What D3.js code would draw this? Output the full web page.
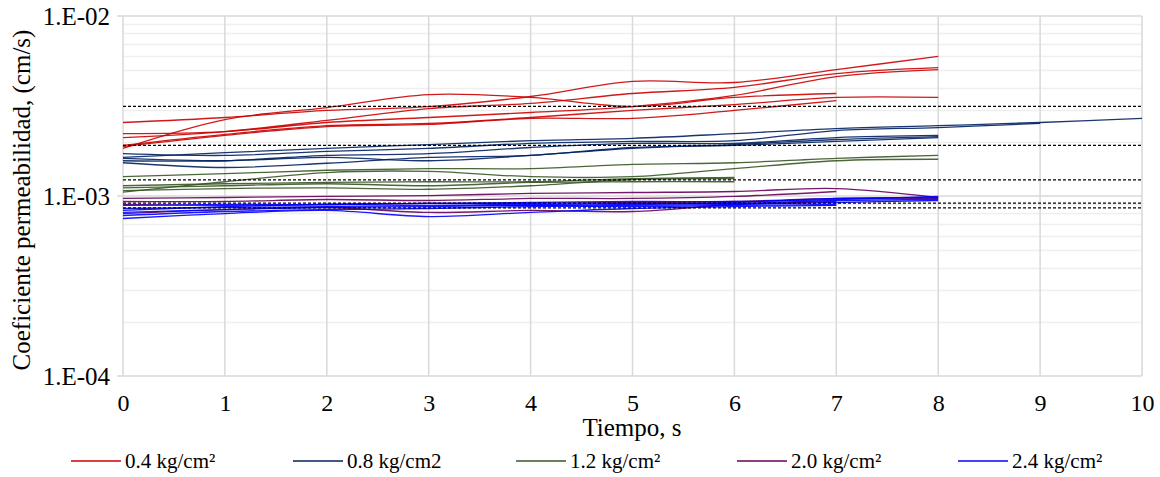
<!DOCTYPE html>
<html><head><meta charset="utf-8">
<script src="https://cdn.jsdelivr.net/npm/d3@7/dist/d3.min.js"></script>
<style>body{margin:0;background:#fff}svg{display:block}svg text{font-family:"Times New Roman","Liberation Serif","DejaVu Serif",serif !important;fill:#000}</style>
</head><body><svg id="c" width="1160" height="477"></svg>
<script>
// Time (s) values for each test run are 0,1,2,... (index)
const seriesNames = ["0.4 kg/cm²", "0.8 kg/cm2", "1.2 kg/cm²", "2.0 kg/cm²", "2.4 kg/cm²"];
const seriesColors = ["#cc0000", "#002060", "#375623", "#66005a", "#0000ff"];

const runs04 = [
  [2.56e-3, 2.73e-3, 2.99e-3, 3.14e-3, 3.57e-3, 4.33e-3, 4.27e-3, 5.04e-3, 5.96e-3],
  [1.84e-3, 2.66e-3, 3.10e-3, 3.66e-3, 3.53e-3, 3.14e-3, 3.53e-3, 3.71e-3],
  [2.11e-3, 2.28e-3, 2.63e-3, 3.06e-3, 3.27e-3, 3.71e-3, 4.01e-3, 4.79e-3, 5.17e-3],
  [2.22e-3, 2.28e-3, 2.56e-3, 2.73e-3, 2.91e-3, 3.14e-3, 3.62e-3, 4.61e-3, 5.04e-3],
  [1.91e-3, 2.20e-3, 2.46e-3, 2.53e-3, 2.73e-3, 2.99e-3, 3.22e-3, 3.53e-3, 3.53e-3],
  [1.88e-3, 2.17e-3, 2.43e-3, 2.50e-3, 2.70e-3, 2.70e-3, 2.99e-3, 3.39e-3]
];
const runs08 = [
  [1.64e-3, 1.74e-3, 1.84e-3, 1.93e-3, 2.03e-3, 2.09e-3, 2.22e-3, 2.37e-3, 2.46e-3, 2.56e-3, 2.70e-3],
  [1.72e-3, 1.68e-3, 1.77e-3, 1.84e-3, 1.96e-3, 2.01e-3, 2.03e-3, 2.31e-3, 2.40e-3, 2.53e-3],
  [1.57e-3, 1.57e-3, 1.68e-3, 1.72e-3, 1.86e-3, 1.96e-3, 1.96e-3, 2.11e-3, 2.17e-3],
  [1.53e-3, 1.44e-3, 1.52e-3, 1.64e-3, 1.68e-3, 1.86e-3, 1.91e-3, 2.01e-3, 2.11e-3],
  [1.62e-3, 1.57e-3, 1.64e-3, 1.57e-3, 1.68e-3, 1.84e-3, 1.93e-3, 2.06e-3, 2.14e-3]
];
const runs12 = [
  [1.28e-3, 1.33e-3, 1.39e-3, 1.42e-3, 1.42e-3, 1.50e-3, 1.53e-3, 1.62e-3, 1.68e-3],
  [1.05e-3, 1.20e-3, 1.35e-3, 1.37e-3, 1.28e-3, 1.28e-3, 1.42e-3, 1.57e-3, 1.60e-3],
  [1.14e-3, 1.17e-3, 1.19e-3, 1.20e-3, 1.20e-3, 1.25e-3, 1.27e-3],
  [1.11e-3, 1.14e-3, 1.17e-3, 1.14e-3, 1.19e-3, 1.20e-3, 1.20e-3],
  [1.07e-3, 1.10e-3, 1.11e-3, 1.09e-3, 1.14e-3, 1.235e-3, 1.25e-3]
];
const runs20 = [
  [0.969e-3, 0.981e-3, 0.994e-3, 1.006e-3, 1.033e-3, 1.046e-3, 1.059e-3, 1.10e-3, 0.981e-3],
  [0.932e-3, 0.932e-3, 0.956e-3, 0.944e-3, 0.969e-3, 0.969e-3, 0.994e-3, 1.059e-3],
  [0.799e-3, 0.841e-3, 0.863e-3, 0.810e-3, 0.831e-3, 0.820e-3, 0.897e-3, 0.932e-3],
  [0.897e-3, 0.886e-3, 0.897e-3, 0.909e-3, 0.909e-3, 0.920e-3, 0.932e-3, 0.969e-3, 0.969e-3]
];
const runs24 = [
  [0.831e-3, 0.874e-3, 0.897e-3, 0.909e-3, 0.920e-3, 0.932e-3, 0.932e-3, 0.956e-3, 0.994e-3],
  [0.886e-3, 0.897e-3, 0.897e-3, 0.909e-3, 0.897e-3, 0.909e-3, 0.909e-3, 0.944e-3, 0.956e-3],
  [0.779e-3, 0.820e-3, 0.841e-3, 0.852e-3, 0.874e-3, 0.886e-3, 0.897e-3, 0.920e-3, 0.944e-3],
  [0.750e-3, 0.799e-3, 0.831e-3, 0.769e-3, 0.810e-3, 0.852e-3, 0.874e-3, 0.886e-3],
  [0.810e-3, 0.841e-3, 0.863e-3, 0.874e-3, 0.886e-3, 0.897e-3, 0.920e-3, 0.969e-3, 0.981e-3],
  [0.852e-3, 0.863e-3, 0.874e-3, 0.886e-3, 0.886e-3, 0.874e-3, 0.886e-3, 0.897e-3]
];
const referenceLevels = [3.15e-3, 1.91e-3, 1.23e-3, 0.912e-3, 0.86e-3];
const xTicks = [0, 1, 2, 3, 4, 5, 6, 7, 8, 9, 10];
const yTicks = [1e-4, 1e-3, 1e-2];
const yTickLabels = ["1.E-04", "1.E-03", "1.E-02"];

const allRuns = [runs04, runs08, runs12, runs20, runs24];
const FONT = '"Times New Roman","Liberation Serif","DejaVu Serif",serif';

const svg = d3.select("#c");
const m = {left: 123, right: 1142, top: 16, bottom: 376};
const x = d3.scaleLinear().domain([0, 10]).range([m.left, m.right]);
const y = d3.scaleLog().domain([1e-4, 1e-2]).range([m.bottom, m.top]);

// minor gridlines
const minor = [];
[1e-4, 1e-3].forEach(d => { for (let k = 2; k <= 9; k++) minor.push(d * k); });
svg.append("g").selectAll("line").data(minor).join("line")
  .attr("x1", m.left).attr("x2", m.right)
  .attr("y1", d => Math.round(y(d)) + 0.5).attr("y2", d => Math.round(y(d)) + 0.5)
  .attr("stroke", "#efefef").attr("stroke-width", 1.5);
// vertical gridlines
svg.append("g").selectAll("line").data(xTicks).join("line")
  .attr("x1", d => x(d)).attr("x2", d => x(d))
  .attr("y1", m.top).attr("y2", m.bottom)
  .attr("stroke", "#d9d9d9").attr("stroke-width", 1.5);
// major horizontal gridlines
svg.append("g").selectAll("line").data(yTicks).join("line")
  .attr("x1", m.left - 6).attr("x2", m.right)
  .attr("y1", d => y(d)).attr("y2", d => y(d))
  .attr("stroke", "#d9d9d9").attr("stroke-width", 1.5);

// axes (text only; lines drawn as grid)
const yAxis = d3.axisLeft(y).tickValues(yTicks).tickFormat((d, i) => yTickLabels[i]).tickSize(0).tickPadding(13);
const gy = svg.append("g").attr("transform", `translate(${m.left},0)`).call(yAxis);
gy.attr("font-family", FONT).attr("font-size", 25);
gy.select(".domain").remove();

const xAxis = d3.axisBottom(x).tickValues(xTicks).tickFormat(d3.format("d")).tickSize(0).tickPadding(18);
const gx = svg.append("g").attr("transform", `translate(0,${m.bottom})`).call(xAxis);
gx.attr("font-family", FONT).attr("font-size", 24);
gx.select(".domain").remove();

// data lines
const line = d3.line().x((d, i) => x(i)).y(d => y(d)).curve(d3.curveCardinal.tension(0));
allRuns.forEach((runs, si) => {
  svg.append("g").selectAll("path").data(runs).join("path")
    .attr("d", line).attr("fill", "none")
    .attr("stroke", seriesColors[si]).attr("stroke-width", 1.3).attr("stroke-opacity", 0.9);
});

// reference dashed levels
svg.append("g").selectAll("line").data(referenceLevels).join("line")
  .attr("x1", m.left).attr("x2", m.right)
  .attr("y1", d => y(d)).attr("y2", d => y(d))
  .attr("stroke", "#000").attr("stroke-width", 1.2).attr("stroke-dasharray", "3,2");

// axis titles
svg.append("text").attr("x", 632).attr("y", 436)
  .attr("text-anchor", "middle").attr("font-family", FONT).attr("font-size", 25).text("Tiempo, s");
svg.append("text").attr("transform", `translate(30,200) rotate(-90)`)
  .attr("text-anchor", "middle").attr("font-family", FONT).attr("font-size", 25).text("Coeficiente permeabilidad, (cm/s)");

// legend
const legX = [71, 293, 516, 737, 958];
const leg = svg.append("g").attr("font-family", FONT).attr("font-size", 21);
seriesNames.forEach((name, i) => {
  leg.append("line").attr("x1", legX[i]).attr("x2", legX[i] + 50).attr("y1", 461).attr("y2", 461)
    .attr("stroke", seriesColors[i]).attr("stroke-width", 1.3);
  leg.append("text").attr("x", legX[i] + 54).attr("y", 468).text(name);
});
</script></body></html>
